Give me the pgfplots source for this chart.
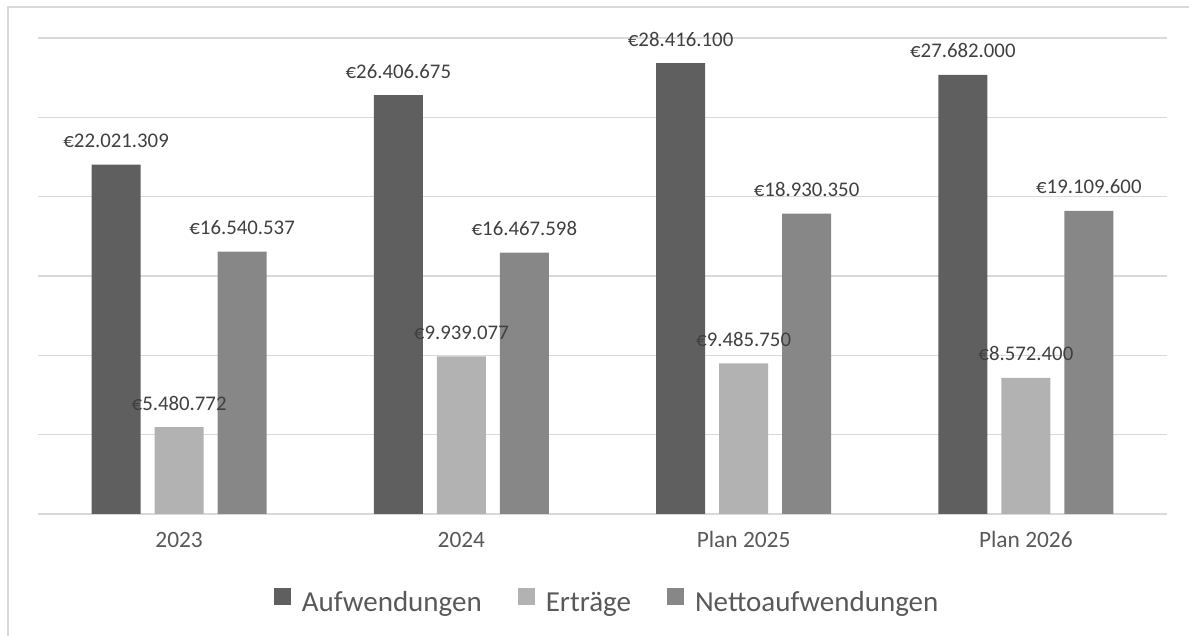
\documentclass[border=0pt]{standalone}
\usepackage{fontspec}
\setmainfont{Carlito}
\usepackage{pgfplots}
\pgfplotsset{compat=1.18}
\definecolor{cDark}{HTML}{5F5F5F}
\definecolor{cLight}{HTML}{B2B2B2}
\definecolor{cMid}{HTML}{878787}
\definecolor{cGrid}{HTML}{D9D9D9}
\definecolor{cLab}{HTML}{404040}
\definecolor{cTick}{HTML}{595959}
\begin{document}
\begin{tikzpicture}[x=1pt,y=1pt]
% 1 px of the 1189x636 reference = 0.5pt
\draw[cGrid, line width=0.6pt] (4,0) -- (4,314.5) -- (594.5,314.5);
\begin{axis}[
  at={(19pt,61pt)}, anchor=south west,
  scale only axis,
  width=564.5pt, height=238pt,
  ybar=7pt, bar width=24.5pt,
  xmin=-0.5, xmax=3.5,
  ymin=0, ymax=3e7,
  scaled y ticks=false,
  xtick=data,
  xticklabels={2023, 2024, Plan 2025, Plan 2026},
  xticklabel style={font=\fontsize{11.7}{13}\selectfont, text=cTick, anchor=base, yshift=-17pt},
  ytick={0,5e6,1e7,1.5e7,2e7,2.5e7,3e7},
  yticklabels={},
  ymajorgrids,
  grid style={cGrid, line width=0.6pt},
  major tick length=0pt,
  axis line style={draw=none},
  clip=false,
  point meta=explicit symbolic,
  nodes near coords,
  every node near coord/.append style={font=\fontsize{10.4}{12}\selectfont, text=cLab, anchor=base, yshift=8.5pt},
  legend columns=-1,
  legend style={at={(0.505,-0.187)}, anchor=center, draw=none, fill=none,
    font=\fontsize{14.5}{16}\selectfont, text=cTick,
    /tikz/every odd column/.append style={column sep=3.5pt},
    /tikz/every even column/.append style={column sep=16pt}},
  legend image code/.code={\fill[#1] (0pt,-1pt) rectangle (8.5pt,7.5pt);},
]
\addplot[fill=cDark, draw=none] coordinates {
  (0,22021309) [€22.021.309]
  (1,26406675) [€26.406.675]
  (2,28416100) [€28.416.100]
  (3,27682000) [€27.682.000]
};
\addplot[fill=cLight, draw=none] coordinates {
  (0,5480772) [€5.480.772]
  (1,9939077) [€9.939.077]
  (2,9485750) [€9.485.750]
  (3,8572400) [€8.572.400]
};
\addplot[fill=cMid, draw=none] coordinates {
  (0,16540537) [€16.540.537]
  (1,16467598) [€16.467.598]
  (2,18930350) [€18.930.350]
  (3,19109600) [€19.109.600]
};
\legend{Aufwendungen, Erträge, Nettoaufwendungen}
\end{axis}
\pgfresetboundingbox
\useasboundingbox (0,0) rectangle (594.5,318);
\end{tikzpicture}
\end{document}
